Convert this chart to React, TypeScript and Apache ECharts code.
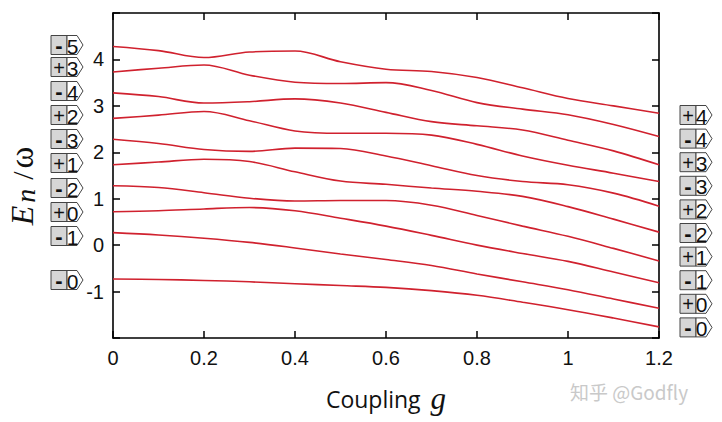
import React, { useEffect, useRef } from "react";
import * as echarts from "echarts";

// coupling values (x)
const gValues = [0, 0.1, 0.2, 0.3, 0.4, 0.5, 0.6, 0.7, 0.8, 0.9, 1.0, 1.1, 1.2];

// energy levels E_n / omega, bottom to top
const levelM0 = [-0.73, -0.74, -0.76, -0.79, -0.83, -0.87, -0.91, -0.98, -1.08, -1.23, -1.39, -1.57, -1.76];
const levelM1 = [0.27, 0.22, 0.15, 0.06, -0.06, -0.19, -0.31, -0.44, -0.62, -0.79, -0.96, -1.16, -1.36];
const levelP0 = [0.72, 0.74, 0.78, 0.81, 0.74, 0.58, 0.41, 0.21, 0.0, -0.18, -0.35, -0.58, -0.81];
const levelM2 = [1.28, 1.24, 1.13, 1.01, 0.95, 0.96, 0.96, 0.86, 0.64, 0.41, 0.19, -0.07, -0.34];
const levelP1 = [1.73, 1.79, 1.85, 1.8, 1.58, 1.38, 1.31, 1.23, 1.16, 1.05, 0.83, 0.56, 0.28];
const levelM3 = [2.28, 2.19, 2.06, 2.02, 2.09, 2.08, 1.92, 1.71, 1.5, 1.37, 1.3, 1.12, 0.84];
const levelP2 = [2.73, 2.8, 2.88, 2.68, 2.46, 2.41, 2.41, 2.37, 2.17, 1.92, 1.72, 1.55, 1.37];
const levelM4 = [3.28, 3.2, 3.06, 3.09, 3.15, 3.06, 2.86, 2.66, 2.57, 2.48, 2.26, 2.03, 1.73];
const levelP3 = [3.73, 3.81, 3.88, 3.66, 3.51, 3.48, 3.5, 3.33, 3.07, 2.93, 2.81, 2.6, 2.34];
const levelM5 = [4.28, 4.19, 4.04, 4.16, 4.18, 3.95, 3.79, 3.74, 3.61, 3.39, 3.16, 3.0, 2.84];

const levels = [levelM0, levelM1, levelP0, levelM2, levelP1, levelM3, levelP2, levelM4, levelP3, levelM5];

// axis ticks
const yTickLabels = [-1, 0, 1, 2, 3, 4];

// state tags (top to bottom)
const leftSigns = ["-", "+", "-", "+", "-", "+", "-", "+", "-", "-"];
const leftNums = ["5", "3", "4", "2", "3", "1", "2", "0", "1", "0"];
const rightSigns = ["+", "-", "+", "-", "+", "-", "+", "-", "+", "-"];
const rightNums = ["4", "4", "3", "3", "2", "2", "1", "1", "0", "0"];

// layout (pixels)
const leftTagX = 51;
const leftTagCenters = [45, 67, 91, 115, 139, 163, 188, 212, 236, 280];
const rightTagX = 680;
const rightTagTop = 115;
const rightTagStep = 23.6;

function makeTag(x: number, cy: number, sign: string, num: string) {
  const h = 19;
  const y = cy - h / 2;
  return {
    type: "group",
    x,
    y,
    children: [
      {
        type: "rect",
        shape: { x: 0, y: 0, width: 16, height: h },
        style: { fill: "#d6d6d6", stroke: "#444", lineWidth: 1 },
      },
      {
        type: "polygon",
        shape: {
          points: [
            [16, 0],
            [26, 0],
            [32, h / 2],
            [26, h],
            [16, h],
          ],
        },
        style: { fill: "#ffffff", stroke: "#444", lineWidth: 1 },
      },
      {
        type: "text",
        x: 8,
        y: h / 2 + 0.5,
        style: {
          text: sign,
          fontFamily: "Liberation Sans",
          fontSize: sign === "+" ? 20 : 22,
          fontWeight: sign === "-" ? "bold" : "normal",
          fill: "#111",
          align: "center",
          verticalAlign: "middle",
        },
      },
      {
        type: "text",
        x: 21.5,
        y: h / 2 + 1,
        style: {
          text: num,
          fontFamily: "Liberation Sans Narrow, Liberation Sans",
          fontSize: 21,
          fill: "#111",
          align: "center",
          verticalAlign: "middle",
        },
      },
    ],
  };
}

export default function App() {
  const ref = useRef<HTMLDivElement>(null);

  useEffect(() => {
    document.body.style.margin = "0";
    if (!ref.current) return;
    const chart = echarts.init(ref.current, null, { renderer: "svg" });

    const axisCommon = {
      type: "value" as const,
      axisLine: { show: true, onZero: false, lineStyle: { color: "#000", width: 1.6 } },
      axisTick: { show: true, inside: true, length: 7, lineStyle: { color: "#000", width: 1.5 } },
      splitLine: { show: false },
    };

    const series = levels.map((lv, i) => ({
      type: "line",
      name: "level" + i,
      data: gValues.map((g, j) => [g, lv[j]]),
      showSymbol: false,
      smooth: 0.35,
      lineStyle: { color: "#d0212e", width: 1.6 },
      silent: true,
    }));

    const graphics: any[] = [];
    leftSigns.forEach((s, i) => graphics.push(makeTag(leftTagX, leftTagCenters[i], s, leftNums[i])));
    rightSigns.forEach((s, i) =>
      graphics.push(makeTag(rightTagX, rightTagTop + i * rightTagStep, s, rightNums[i]))
    );
    // y-axis title, rotated
    graphics.push({
      type: "text",
      x: 22,
      y: 186,
      rotation: Math.PI / 2,
      style: {
        text: "{e|E}{s|n}{sl|/}{w|ω}",
        align: "center",
        verticalAlign: "middle",
        rich: {
          e: { fontFamily: "Liberation Serif", fontStyle: "italic", fontSize: 32, fill: "#111", padding: [0, 2, 0, 0] },
          s: { fontFamily: "Liberation Serif", fontStyle: "italic", fontSize: 28, fill: "#111", padding: [6, 9, 0, 1] },
          sl: { fontFamily: "Liberation Serif", fontSize: 30, fill: "#111", padding: [0, 3, 0, 0] },
          w: { fontFamily: "Liberation Serif", fontSize: 33, fill: "#111" },
        },
      },
    });
    graphics.push({
      type: "text",
      x: 570,
      y: 391,
      style: {
        text: "知乎 @Godfly",
        fontFamily: "Noto Sans CJK SC",
        fontSize: 19,
        fill: "#c9c9c9",
        align: "left",
        verticalAlign: "middle",
      },
    });

    chart.setOption({
      animation: false,
      backgroundColor: "#ffffff",
      grid: { left: 113, right: 63, top: 13, bottom: 84, containLabel: false },
      xAxis: [
        {
          ...axisCommon,
          position: "bottom",
          min: 0,
          max: 1.2,
          interval: 0.2,
          name: "{c|Coupling}   {g|g}",
          nameLocation: "middle",
          nameGap: 45,
          nameTextStyle: {
            rich: {
              c: { fontFamily: "Open Sans", fontSize: 23, color: "#111" },
              g: { fontFamily: "Liberation Serif", fontStyle: "italic", fontSize: 31, color: "#111" },
            },
          },
          axisLabel: {
            show: true,
            margin: 10,
            fontFamily: "Liberation Sans",
            fontSize: 20,
            color: "#111",
          },
        },
        {
          ...axisCommon,
          position: "top",
          min: 0,
          max: 1.2,
          interval: 0.2,
          axisLabel: { show: false },
        },
      ],
      yAxis: [
        {
          ...axisCommon,
          position: "left",
          min: -2,
          max: 5,
          interval: 1,
          axisLabel: {
            show: true,
            margin: 9,
            fontFamily: "Liberation Sans",
            fontSize: 20,
            color: "#111",
            formatter: (v: number) => (yTickLabels.indexOf(v) >= 0 ? String(v) : ""),
          },
        },
        {
          ...axisCommon,
          position: "right",
          min: -2,
          max: 5,
          interval: 1,
          axisLabel: { show: false },
        },
      ],
      series,
      graphic: graphics,
    });

    return () => chart.dispose();
  }, []);

  return <div ref={ref} style={{ width: 722, height: 422 }} />;
}
